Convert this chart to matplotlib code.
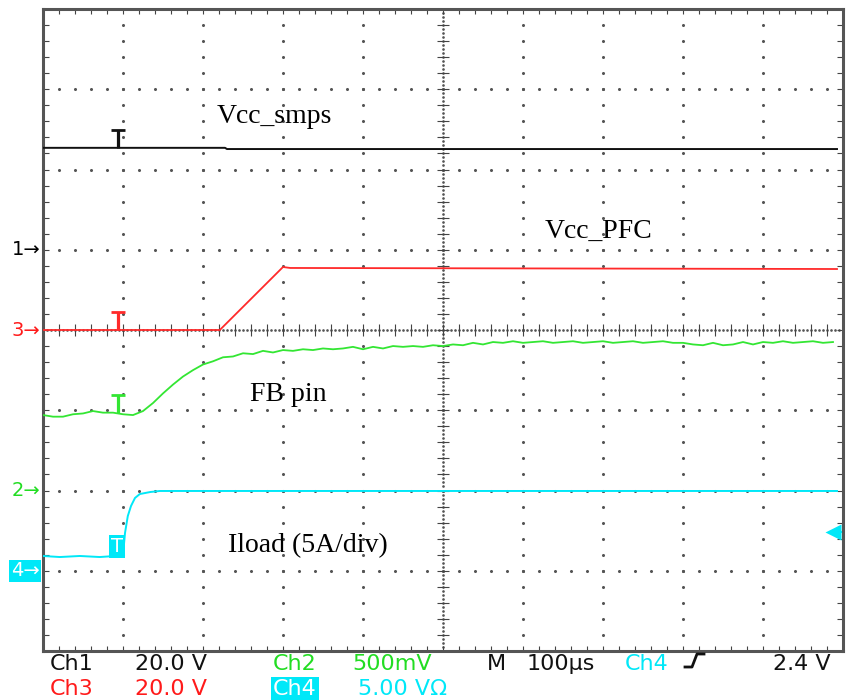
import matplotlib
matplotlib.use("Agg")
import matplotlib.pyplot as plt
from matplotlib.lines import Line2D

# scope screen: 10 div x 100 us, 8 div vertical; trace levels in divisions
us_per_div = 100.0

# Ch1 (Vcc_smps), Ch3 (Vcc_PFC), Ch4 (Iload) - time in us from left edge
ch1_t = [0, 227.5, 230, 992.5]
ch1_v = [2.27, 2.27, 2.255, 2.255]

ch3_t = [0, 221, 300, 309, 992.5]
ch3_v = [0.0, 0.0, 0.785, 0.773, 0.76]

ch4_t = [0, 21, 46, 71, 90, 100, 102.5, 106, 110, 115, 121, 134, 146, 992.5]
ch4_v = [-2.816, -2.829, -2.816, -2.829, -2.816, -2.804, -2.53, -2.318,
         -2.193, -2.093, -2.044, -2.019, -2.006, -2.006]

# Ch2 (FB pin), sampled every 12.5 us
ch2_v = [-1.06, -1.08, -1.08, -1.05, -1.04, -1.01, -1.03, -1.03, -1.05, -1.06,
         -1.01, -0.91, -0.79, -0.68, -0.58, -0.50, -0.43, -0.39, -0.34, -0.33,
         -0.29, -0.30, -0.26, -0.28, -0.25, -0.26, -0.24, -0.25, -0.23, -0.24,
         -0.23, -0.21, -0.24, -0.21, -0.23, -0.20, -0.21, -0.20, -0.21, -0.19,
         -0.20, -0.18, -0.19, -0.16, -0.18, -0.15, -0.16, -0.14, -0.16, -0.15,
         -0.14, -0.16, -0.15, -0.14, -0.16, -0.15, -0.14, -0.16, -0.15, -0.14,
         -0.16, -0.15, -0.14, -0.16, -0.16, -0.18, -0.19, -0.16, -0.19, -0.18,
         -0.15, -0.18, -0.15, -0.16, -0.14, -0.16, -0.15, -0.14, -0.16, -0.15]
ch2_dt = 12.5
ch2_t = [ch2_dt * i for i in range(len(ch2_v))]

trig_t = 93.75                 # trigger point
trig_level = -3 + 2.4 / 5.0    # Ch4 trigger level, 2.4 V at 5 V/div
gnd_marks = [("1", 1, "black"), ("3", 0, "#ff1a1a"), ("2", -2, "#22dd22")]
ch4_gnd = -3

BLACK = "#111111"
RED = "#ff2a2a"
GREEN = "#33e633"
CYAN = "#00e8f8"

W, H = 847, 700
fig = plt.figure(figsize=(W / 100, H / 100), dpi=100)
ax = fig.add_axes([43 / W, 49 / H, 800 / W, 642 / H])
ax.set_xlim(0, 10 * us_per_div)
ax.set_ylim(-4, 4)
ax.set_xticks([])
ax.set_yticks([])
for s in ax.spines.values():
    s.set_color("#555555")
    s.set_linewidth(2.2)

# graticule: dotted division lines
dot = dict(ls="none", marker="o", ms=1.2, color="#555555", zorder=1)
minor_x = [20 * i for i in range(1, 50)]
minor_y = [-4 + 0.2 * i for i in range(1, 40)]
for i in range(1, 10):
    if i != 5:
        ax.plot([i * us_per_div] * len(minor_y), minor_y, **dot)
for j in range(-3, 4):
    if j != 0:
        ax.plot(minor_x, [j] * len(minor_x), **dot)
# centre axes: dense dots + small cross ticks
fine_x = [5 * i for i in range(1, 200)]
fine_y = [-4 + 0.05 * i for i in range(1, 160)]
ax.plot([500] * len(fine_y), fine_y, ls="none", marker="o", ms=0.9, color="#555555", zorder=1)
ax.plot(fine_x, [0] * len(fine_x), ls="none", marker="o", ms=0.9, color="#555555", zorder=1)
ax.hlines(minor_y, 492, 508, color="#444444", lw=0.8, zorder=1)
ax.vlines(minor_x, -0.075, 0.075, color="#444444", lw=0.8, zorder=1)
# border ticks
ax.vlines(minor_x, 3.94, 4, color="#444444", lw=0.8)
ax.vlines(minor_x, -4, -3.94, color="#444444", lw=0.8)
ax.hlines(minor_y, 0, 7, color="#444444", lw=0.8)
ax.hlines(minor_y, 993, 1000, color="#444444", lw=0.8)

# traces
ax.plot(ch1_t, ch1_v, color=BLACK, lw=1.4, zorder=3)
ax.plot(ch3_t, ch3_v, color=RED, lw=1.3, zorder=3)
ax.plot(ch2_t, ch2_v, color=GREEN, lw=1.3, zorder=3)
ax.plot(ch4_t, ch4_v, color=CYAN, lw=1.4, zorder=3)

# trigger "T" marks on the traces
def t_mark(v, color):
    h = 0.22
    ax.plot([trig_t, trig_t], [v, v + h], color=color, lw=2.3, zorder=4,
            solid_capstyle="butt")
    ax.plot([trig_t - 9, trig_t + 9], [v + h, v + h], color=color, lw=2.0,
            zorder=4, solid_capstyle="butt")

t_mark(ch1_v[0], BLACK)
t_mark(ch3_v[0], RED)
t_mark(ch2_v[0] + 0.03, GREEN)
ax.text(trig_t - 1, ch4_v[0] + 0.12, "T", color="white", fontsize=14,
        family="DejaVu Sans", ha="center", va="center", zorder=5,
        bbox=dict(boxstyle="square,pad=0.1", fc=CYAN, ec="none"))

# trigger level arrow on the right edge
ax.plot([988, 1000], [trig_level, trig_level], color=CYAN, lw=1.5, clip_on=False)
ax.plot([988], [trig_level], marker="<", ms=12, color=CYAN, clip_on=False, mec="none")

# channel ground markers on the left
for name, lvl, col in gnd_marks:
    ax.text(-3, lvl, name + "\u2192", color=col, fontsize=14, ha="right",
            va="center", clip_on=False)
ax.text(-4, ch4_gnd, "4\u2192", color="white", fontsize=14, ha="right",
        va="center", clip_on=False,
        bbox=dict(boxstyle="square,pad=0.08", fc=CYAN, ec="none"))

# trace annotations
serif = dict(family="Liberation Serif", fontsize=20, color="black", va="baseline")
def ptext(x, y, s, **kw):
    fig.text(x / W, 1 - y / H, s, **kw)

ptext(217, 123, "Vcc_smps", **serif)
ptext(545, 238, "Vcc_PFC", **serif)
ptext(250, 401, "FB pin", **serif)
ptext(228, 552, "Iload (5A/div)", **serif)

# status lines
st = dict(family="DejaVu Sans", fontsize=16, va="baseline")
ptext(50, 670, "Ch1", color=BLACK, **st)
ptext(135, 670, "20.0 V", color=BLACK, **st)
ptext(273, 670, "Ch2", color="#22dd22", **st)
ptext(352, 670, "500mV", color="#22dd22", **st)
ptext(487, 670, "M", color=BLACK, **st)
ptext(527, 670, "100\u00b5s", color=BLACK, **st)
ptext(625, 670, "Ch4", color=CYAN, **st)
ptext(773, 670, "2.4 V", color=BLACK, **st)
ptext(50, 695, "Ch3", color="#ff1a1a", **st)
ptext(135, 695, "20.0 V", color="#ff1a1a", **st)
ptext(273, 695, "Ch4", color="white", bbox=dict(boxstyle="square,pad=0.08", fc=CYAN, ec="none"), **st)
ptext(358, 695, "5.00 V\u03a9", color=CYAN, **st)

# rising-edge trigger symbol
fig.add_artist(Line2D([685 / W, 692 / W, 697 / W, 704 / W],
                      [1 - 667 / H, 1 - 667 / H, 1 - 654 / H, 1 - 654 / H],
                      color=BLACK, lw=2.0))

fig.savefig("out.png", dpi=100, facecolor="white")
